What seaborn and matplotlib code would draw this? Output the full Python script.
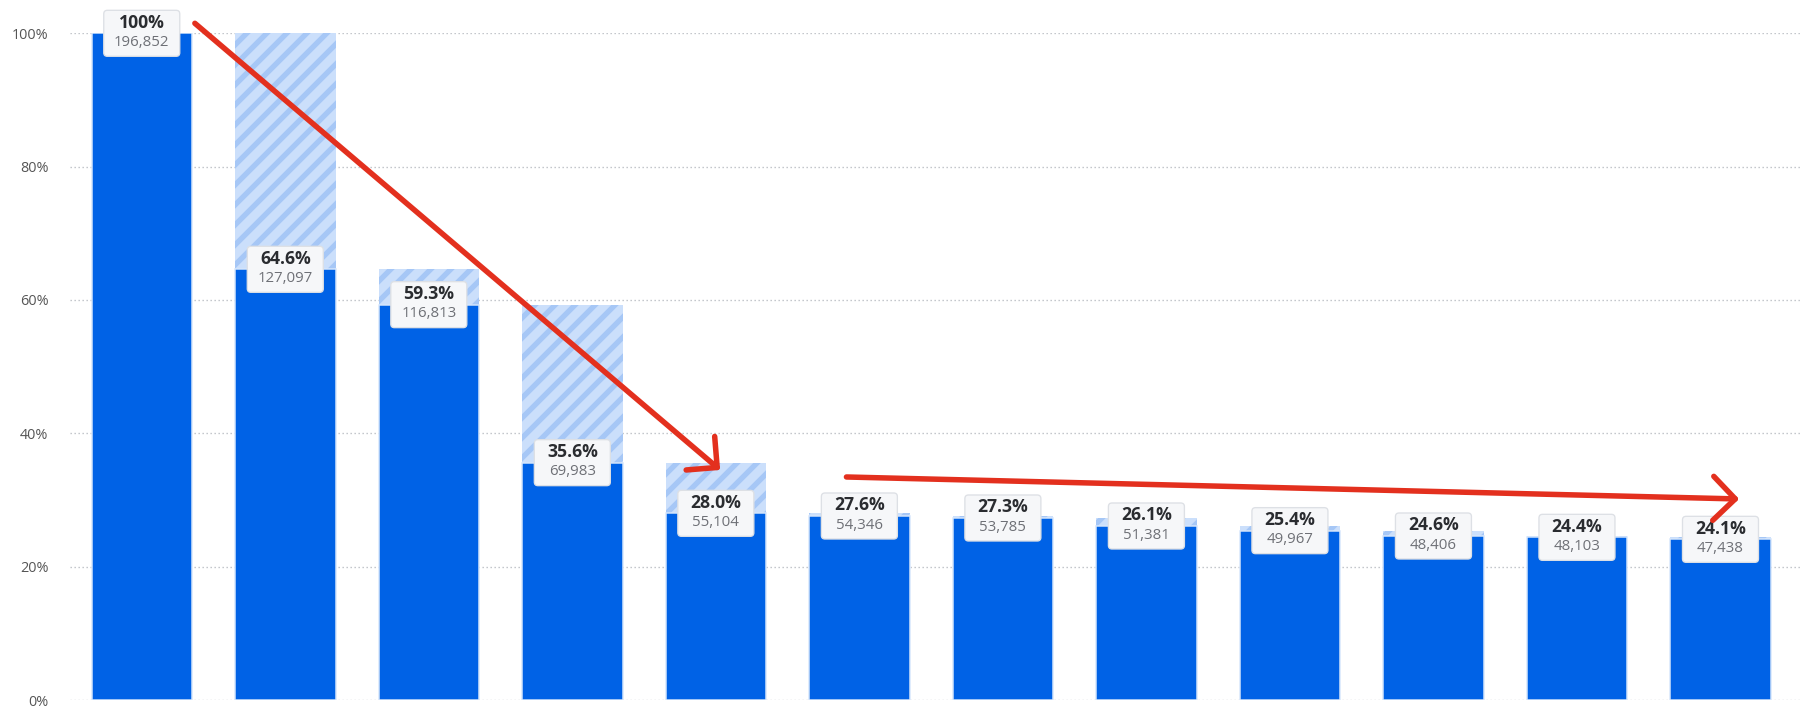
import matplotlib
matplotlib.use("Agg")
import matplotlib.pyplot as plt
import matplotlib.transforms as mtransforms
from matplotlib.patches import FancyBboxPatch, FancyArrowPatch
import seaborn as sns
import pandas as pd

# ---- data ----
steps = ["Step 1", "Step 2", "Step 3", "Step 4", "Step 5", "Step 6",
         "Step 7", "Step 8", "Step 9", "Step 10", "Step 11", "Step 12"]
pct = [100.0, 64.6, 59.3, 35.6, 28.0, 27.6, 27.3, 26.1, 25.4, 24.6, 24.4, 24.1]
pct_labels = ["100%", "64.6%", "59.3%", "35.6%", "28.0%", "27.6%",
              "27.3%", "26.1%", "25.4%", "24.6%", "24.4%", "24.1%"]
counts = [196852, 127097, 116813, 69983, 55104, 54346,
          53785, 51381, 49967, 48406, 48103, 47438]
y_ticks = [0, 20, 40, 60, 80, 100]
y_tick_labels = ["0%", "20%", "40%", "60%", "80%", "100%"]

prev_pct = [pct[0]] + pct[:-1]
df = pd.DataFrame({"step": steps, "pct": pct, "prev": prev_pct})

# ---- style ----
sns.set_theme(style="white")
plt.rcParams["font.family"] = ["Open Sans", "DejaVu Sans"]
plt.rcParams["hatch.linewidth"] = 3.2

DPI = 120
fig = plt.figure(figsize=(15, 6.05), dpi=DPI)
ax = fig.add_axes([70 / 1800, 26 / 726, 1730 / 1800, 666.7 / 726])

# hatched "drop-off" bars (height = previous step)
sns.barplot(data=df, x="step", y="prev", ax=ax, color="#cbdffb", saturation=1,
            width=0.70, hatch="//", edgecolor="#a6c7f6", linewidth=0, zorder=2)
# solid conversion bars
sns.barplot(data=df, x="step", y="pct", ax=ax, color="#0062e6", saturation=1,
            width=0.70, edgecolor="#d6e6fc", linewidth=0.9, zorder=3)

ax.set_xlim(-0.5, 11.554)
ax.set_ylim(0, 100)
ax.set_yticks(y_ticks)
ax.set_yticklabels(y_tick_labels)
ax.set_xticks([])
ax.set_xlabel("")
ax.set_ylabel("")
ax.tick_params(axis="y", length=0, pad=13, labelsize=8.6, labelcolor="#555555")
for s in ax.spines.values():
    s.set_visible(False)
for t in y_ticks:
    ax.axhline(t, color="#b9bcc2", linewidth=0.8, linestyle=(0, (1, 2)), zorder=1)

# ---- labels ----
box_w, box_h = 76 / DPI, 46 / DPI
for i, (v, lab, c) in enumerate(zip(pct, pct_labels, counts)):
    tr = fig.dpi_scale_trans + mtransforms.ScaledTranslation(i, v, ax.transData)
    box = FancyBboxPatch((-box_w / 2, -box_h / 2), box_w, box_h,
                         boxstyle="round,pad=0,rounding_size=0.03",
                         transform=tr, facecolor="#f6f7f9", edgecolor="#dde0e5",
                         linewidth=0.8, zorder=5, clip_on=False)
    ax.add_patch(box)
    ax.annotate(lab, (i, v), xytext=(0, 6.4), textcoords="offset points",
                ha="center", va="center", fontsize=10.6, fontweight="bold",
                color="#2a2c30", zorder=6, annotation_clip=False)
    ax.annotate(f"{c:,}", (i, v), xytext=(0, -5.6), textcoords="offset points",
                ha="center", va="center", fontsize=9.0,
                color="#6e7076", zorder=6, annotation_clip=False)

# ---- red arrows ----
arrow_kw = dict(arrowstyle="->,head_length=1.1,head_width=1.1", mutation_scale=12,
                color="#e3301e", linewidth=3.3, capstyle="round", joinstyle="round",
                zorder=10, clip_on=False, shrinkA=0, shrinkB=0)
ax.add_patch(FancyArrowPatch((0.37, 101.5), (4.03, 34.5), **arrow_kw))
ax.add_patch(FancyArrowPatch((4.91, 33.45), (11.13, 30.15), **arrow_kw))

fig.savefig("out.png", dpi=DPI, facecolor="white")
